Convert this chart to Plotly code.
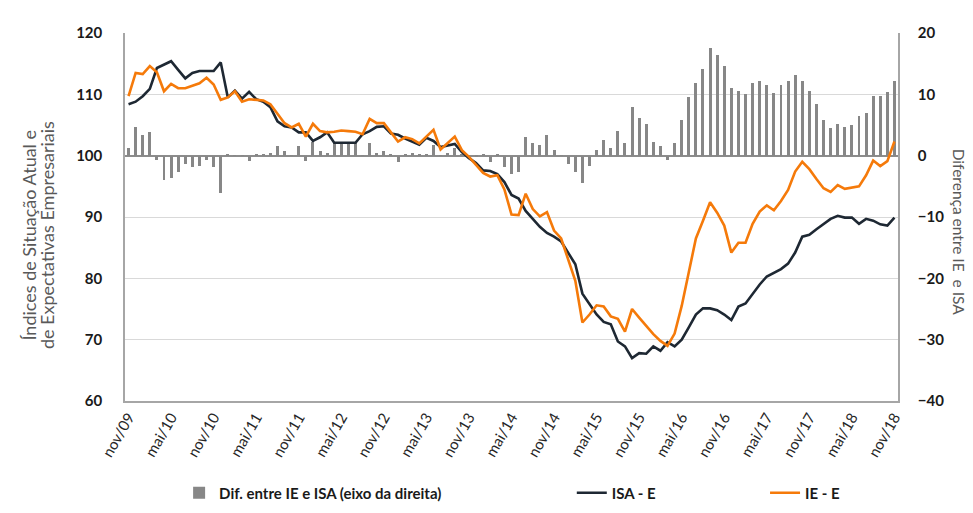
import plotly.graph_objects as go

# ---- data (monthly, nov/09 .. nov/18) ----
months = ["nov/09","dez/09","jan/10","fev/10","mar/10","abr/10","mai/10","jun/10","jul/10","ago/10","set/10","out/10",
          "nov/10","dez/10","jan/11","fev/11","mar/11","abr/11","mai/11","jun/11","jul/11","ago/11","set/11","out/11",
          "nov/11","dez/11","jan/12","fev/12","mar/12","abr/12","mai/12","jun/12","jul/12","ago/12","set/12","out/12",
          "nov/12","dez/12","jan/13","fev/13","mar/13","abr/13","mai/13","jun/13","jul/13","ago/13","set/13","out/13",
          "nov/13","dez/13","jan/14","fev/14","mar/14","abr/14","mai/14","jun/14","jul/14","ago/14","set/14","out/14",
          "nov/14","dez/14","jan/15","fev/15","mar/15","abr/15","mai/15","jun/15","jul/15","ago/15","set/15","out/15",
          "nov/15","dez/15","jan/16","fev/16","mar/16","abr/16","mai/16","jun/16","jul/16","ago/16","set/16","out/16",
          "nov/16","dez/16","jan/17","fev/17","mar/17","abr/17","mai/17","jun/17","jul/17","ago/17","set/17","out/17",
          "nov/17","dez/17","jan/18","fev/18","mar/18","abr/18","mai/18","jun/18","jul/18","ago/18","set/18","out/18",
          "nov/18"]

isa_e = [108.4,108.8,109.7,110.9,114.3,114.8,115.4,114.0,112.6,113.5,113.8,113.8,
         113.8,115.2,109.5,110.6,109.3,110.4,109.2,108.8,107.9,105.6,104.8,104.6,
         103.8,103.8,102.4,103.0,103.8,102.1,102.1,102.1,102.1,103.5,104.0,104.7,
         104.8,103.6,103.4,102.8,102.3,101.8,102.9,102.4,101.4,101.6,101.9,100.6,
         99.6,98.8,97.6,97.5,97.0,95.7,93.6,93.0,91.0,89.7,88.4,87.4,
         86.8,86.0,84.2,82.3,77.5,75.9,74.1,72.9,72.5,69.7,68.9,67.0,
         67.8,67.7,68.9,68.2,69.6,68.9,70.0,72.0,74.1,75.1,75.1,74.8,
         74.1,73.2,75.4,75.9,77.5,79.0,80.3,80.9,81.5,82.4,84.2,86.8,
         87.1,88.0,88.8,89.7,90.2,89.9,89.9,88.9,89.7,89.4,88.8,88.6,
         89.9]

ie_e = [109.7,113.5,113.3,114.6,113.6,110.5,111.7,111.0,111.0,111.4,111.8,112.7,
        111.6,109.1,109.5,110.5,108.8,109.2,109.1,109.0,108.4,106.9,105.3,104.6,
        105.2,103.1,105.2,104.0,103.8,103.9,104.1,104.0,103.9,103.5,106.0,105.3,
        105.3,103.8,102.3,103.0,102.7,102.0,103.1,104.2,101.0,102.1,103.1,100.9,
        99.8,98.5,97.2,96.6,96.8,94.5,90.4,90.3,93.8,91.3,90.1,90.8,
        87.8,86.5,83.1,79.6,72.8,74.1,75.6,75.4,73.8,73.4,71.3,75.0,
        73.6,72.3,70.9,69.8,69.0,71.0,75.5,81.0,86.5,89.4,92.4,90.7,
        88.6,84.2,85.8,85.8,88.9,90.9,91.9,91.1,92.6,94.4,97.4,99.0,
        97.8,96.2,94.7,94.1,95.2,94.6,94.8,95.0,96.8,99.2,98.3,99.1,
        102.3]

dif = [1.3,4.7,3.4,3.8,-0.7,-4.0,-3.6,-2.7,-1.4,-1.8,-1.7,-0.7,
       -1.8,-6.1,0.2,0.1,0.1,-0.9,0.15,0.25,0.5,1.6,0.7,0.1,
       1.6,-0.9,2.2,0.8,0.4,2.0,2.0,2.0,2.0,0.1,2.1,0.5,
       0.7,0.2,-1.0,0.2,0.4,0.2,0.2,1.8,0.1,0.5,1.2,0.3,
       0.1,-0.2,0.2,-1.0,0.2,-1.9,-3.0,-2.6,3.1,2.1,1.8,3.4,
       0.9,0.1,-1.4,-2.7,-4.5,-1.7,0.9,2.5,1.2,4.1,2.0,8.0,
       6.2,5.1,2.2,1.6,-0.7,2.1,5.8,9.6,11.9,14.2,17.5,16.4,
       14.7,11.1,10.5,10.0,11.8,12.2,11.5,10.2,11.5,12.2,13.2,12.2,
       10.6,8.4,5.8,4.5,5.1,4.7,5.0,6.4,6.9,9.7,9.7,10.4,
       12.2]

tick_idx = list(range(0, len(months), 6))
tick_text = [months[i] for i in tick_idx]

x = list(range(len(months)))
FONT = "Lato"

fig = go.Figure()
fig.add_trace(go.Bar(x=x, y=dif, yaxis="y", width=0.42, marker_color="#878787",
                     marker_line_width=0, name="Dif. entre IE e ISA (eixo da direita)",
                     legend="legend", showlegend=True))
fig.add_trace(go.Scatter(x=x, y=isa_e, yaxis="y2", mode="lines",
                         line=dict(color="#1e2833", width=2.6), name="ISA - E",
                         legend="legend2", showlegend=True))
fig.add_trace(go.Scatter(x=x, y=ie_e, yaxis="y2", mode="lines",
                         line=dict(color="#f57a0a", width=2.6), name="IE - E",
                         legend="legend3", showlegend=True))

tickfont_bold = dict(family=FONT, size=15, color="#1a1a1a", weight="bold")
legfont = dict(family=FONT, size=15, color="#1a1a1a", weight="bold")
title_font_l = dict(family=FONT, size=18, color="#595959")
title_font_r = dict(family=FONT, size=15.5, color="#595959")

fig.update_layout(
    width=973, height=513,
    showlegend=True,
    margin=dict(l=117, r=83, t=25, b=105),
    paper_bgcolor="white", plot_bgcolor="white",
    bargap=0,
    xaxis=dict(range=[-0.5, len(months) - 0.5], tickmode="array", tickvals=tick_idx,
               ticktext=tick_text, tickangle=-60, showgrid=False, zeroline=False,
               showline=True, linecolor="#a6a6a6", linewidth=1.5, ticks="",
               tickfont=dict(family=FONT, size=15, color="#262626")),
    yaxis=dict(range=[-40, 20], dtick=10, side="right", showgrid=True, gridcolor="#d9d9d9",
               gridwidth=1, zeroline=True, zerolinecolor="#8c8c8c", zerolinewidth=2,
               showline=True, linecolor="#a6a6a6", linewidth=1.5, ticks="",
               tickfont=tickfont_bold, ticklabelstandoff=15),
    yaxis2=dict(range=[60, 120], dtick=10, side="left", overlaying="y", showgrid=False,
                zeroline=False, showline=True, linecolor="#a6a6a6", linewidth=1.5, ticks="",
                tickfont=tickfont_bold, ticklabelstandoff=18),
    legend=dict(x=0.07, y=-0.25, xanchor="left", yanchor="middle", orientation="h",
                font=legfont, bgcolor="rgba(0,0,0,0)", visible=True),
    legend2=dict(x=0.578, y=-0.25, xanchor="left", yanchor="middle", orientation="h",
                 font=legfont, bgcolor="rgba(0,0,0,0)", visible=True),
    legend3=dict(x=0.828, y=-0.25, xanchor="left", yanchor="middle", orientation="h",
                 font=legfont, bgcolor="rgba(0,0,0,0)", visible=True),
    annotations=[
        dict(text="Índices de Situação Atual e", textangle=-90,
             xref="paper", yref="paper", x=-0.124, y=0.45, xanchor="center", yanchor="middle",
             showarrow=False, font=title_font_l),
        dict(text="de Expectativas Empresariais", textangle=-90,
             xref="paper", yref="paper", x=-0.1, y=0.45, xanchor="center", yanchor="middle",
             showarrow=False, font=title_font_l),
        dict(text="Diferença entre IE  e ISA", textangle=90,
             xref="paper", yref="paper", x=1.079, y=0.46, xanchor="center", yanchor="middle",
             showarrow=False, font=title_font_r),
    ],
)

fig.write_html("out.html")
